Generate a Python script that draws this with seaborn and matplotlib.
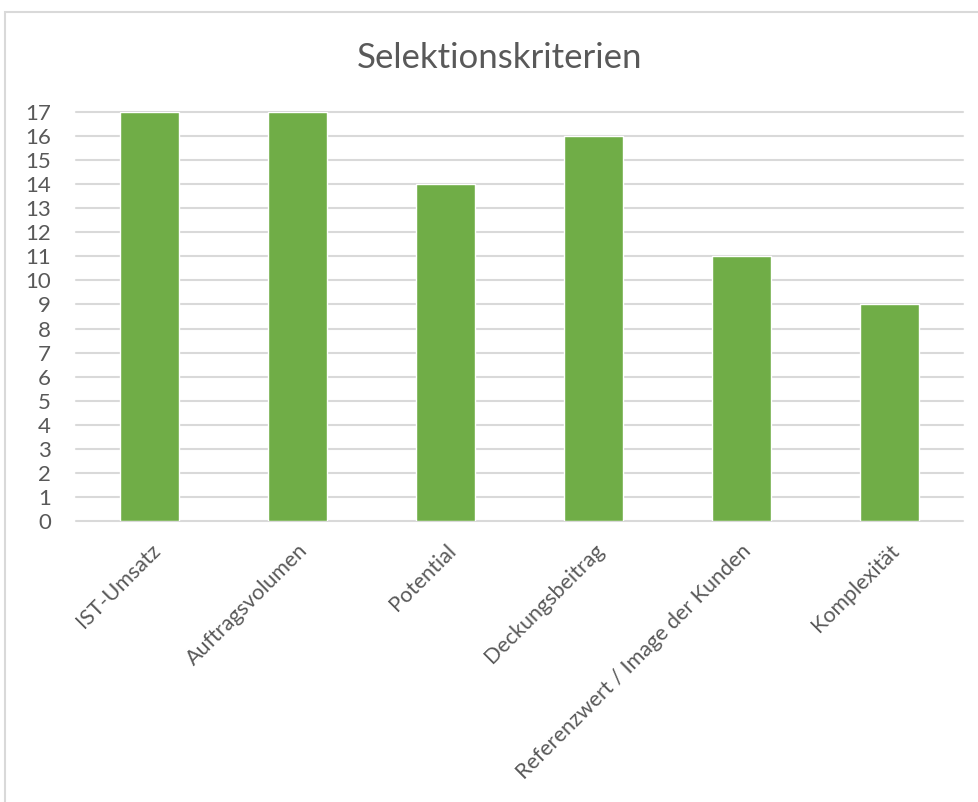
import matplotlib
matplotlib.use("Agg")
import matplotlib.pyplot as plt
import seaborn as sns
import pandas as pd
from matplotlib.patches import Rectangle

categories = ["IST-Umsatz", "Auftragsvolumen", "Potential", "Deckungsbeitrag",
              "Referenzwert / Image der Kunden", "Komplexität"]
values = [17, 17, 14, 16, 11, 9]
yticks = list(range(0, 18))
title = "Selektionskriterien"

df = pd.DataFrame({"Kriterium": categories, "Anzahl": values})

sns.set_theme(style="white")
plt.rcParams["font.family"] = ["Lato", "DejaVu Sans"]

W, H = 979, 802
fig = plt.figure(figsize=(W / 100, H / 100), dpi=100)
fig.patch.set_facecolor("white")

# outer chart border (light gray), extending past right/bottom edges
fig.add_artist(Rectangle((5 / W, -0.05), 1.2, 1 - 12 / H + 0.05, transform=fig.transFigure,
                         fill=False, edgecolor="#d9d9d9", linewidth=1.5, clip_on=False))

left, right = 76 / W, 963 / W
bottom, top = 1 - 521 / H, 1 - 112 / H
ax = fig.add_axes([left, bottom, right - left, top - bottom])

sns.barplot(data=df, x="Kriterium", y="Anzahl", color="#70AD47", saturation=1,
            width=0.40, ax=ax, zorder=3)

ax.set_ylim(0, 17)
ax.set_xlim(-0.5, len(categories) - 0.5)
ax.set_yticks(yticks)
ax.set_yticklabels([str(t) for t in yticks], fontsize=16, color="#595959")
for y in yticks:
    ax.axhline(y, color="#d9d9d9", linewidth=1.5, zorder=1, clip_on=False)
ax.set_xlabel("")
ax.set_ylabel("")
for s in ax.spines.values():
    s.set_visible(False)
ax.tick_params(axis="both", length=0)
ax.tick_params(axis="y", pad=18)
ax.tick_params(axis="x", pad=14)
ax.set_xticks(range(len(categories)))
ax.set_xticklabels(categories, rotation=45, ha="right", rotation_mode="anchor",
                   fontsize=15.5, color="#595959")

fig.text(0.51, 1 - 58 / H, title, ha="center", va="center", fontsize=25, color="#595959")

fig.savefig("out.png", dpi=100, facecolor="white")
